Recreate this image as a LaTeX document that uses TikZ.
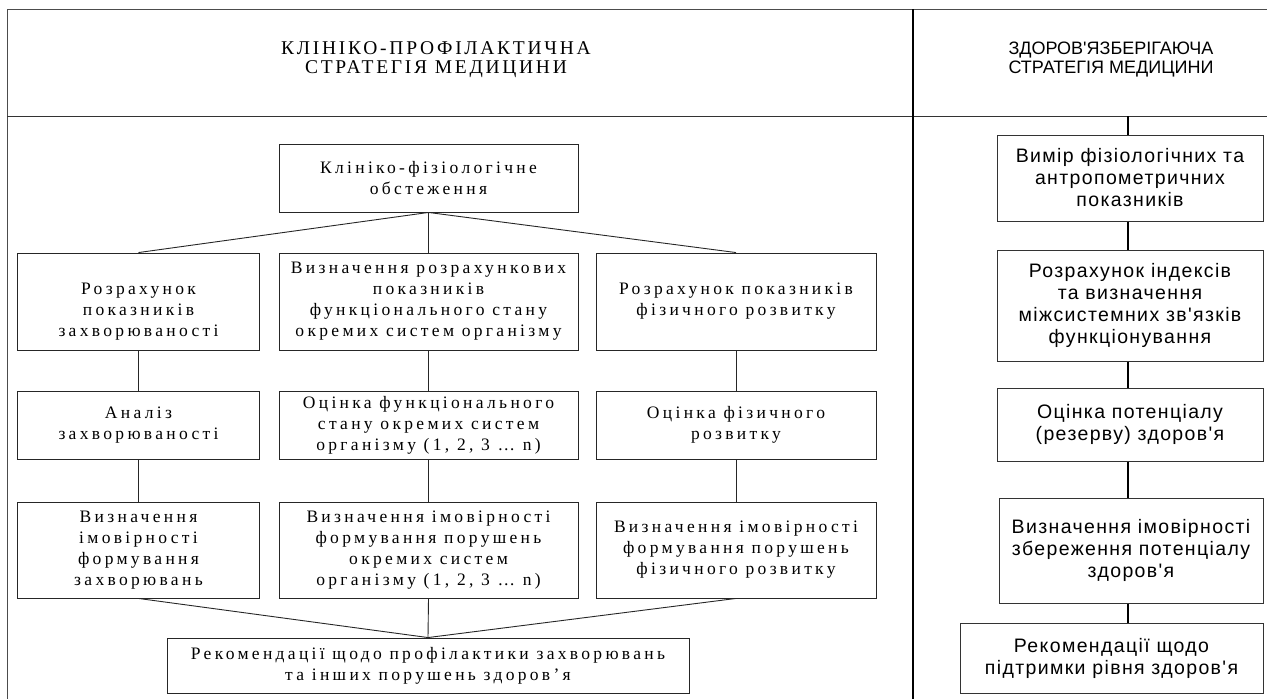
\documentclass[tikz,border=0pt]{standalone}
\usepackage{fontspec}
\setmainfont{Liberation Serif}
\newfontfamily\spacedserif[LetterSpace=19]{Liberation Serif}
\newfontfamily\capserif[LetterSpace=14]{Liberation Serif}
\newfontfamily\plainsans{Liberation Sans}
\newfontfamily\widesans[LetterSpace=7]{Liberation Sans}

\tikzset{
  lbox/.style={draw=black!85, line width=0.9pt, align=center, inner sep=0pt,
    font=\spacedserif\fontsize{17.5}{21}\selectfont},
  rbox/.style={draw=black!80, line width=1pt, align=center, inner sep=0pt,
    font=\widesans\fontsize{19.5}{22}\selectfont},
  thinline/.style={black!85, line width=0.9pt},
  thickline/.style={black, line width=2pt}
}

\begin{document}
\begin{tikzpicture}[x=1pt, y=-1pt]
\useasboundingbox (0,0) rectangle (1267,699);

%frame
\draw[black!70, line width=1pt] (7,699)--(7,9)--(1267,9);
\draw[black!80, line width=1pt] (7,116)--(1267,116);
\draw[thickline] (913,9)--(913,699);

%headers
\node (hleft) at (436,60) [align=center, font=\capserif\fontsize{19.5}{19}\selectfont]
  {КЛІНІКО-ПРОФІЛАКТИЧНА\\СТРАТЕГІЯ МЕДИЦИНИ};
\node (hright) at (1111,60) [align=center, font=\plainsans\fontsize{18}{19}\selectfont]
  {ЗДОРОВ'ЯЗБЕРІГАЮЧА\\СТРАТЕГІЯ МЕДИЦИНИ};

%left column
\node (obs) at (428.5,178) [lbox, minimum width=299pt, minimum height=68pt]
  {Клініко-фізіологічне\\обстеження};

\node (a1) at (138.5,301.5) [lbox, minimum width=242pt, minimum height=97pt, text height=74pt]
  {Розрахунок\\показників\\захворюваності};
\node (a2) at (428.5,301.5) [lbox, minimum width=299pt, minimum height=97pt]
  {Визначення розрахункових\\показників\\функціонального стану\\окремих систем організму};
\node (a3) at (736,301.5) [lbox, minimum width=280pt, minimum height=97pt]
  {Розрахунок показників\\фізичного розвитку};

\node (b1) at (138.5,425) [lbox, minimum width=242pt, minimum height=68pt]
  {Аналіз\\захворюваності};
\node (b2) at (428.5,425) [lbox, minimum width=299pt, minimum height=68pt]
  {Оцінка функціонального\\стану окремих систем\\організму (1, 2, 3 \dots\ n)};
\node (b3) at (736,425) [lbox, minimum width=280pt, minimum height=68pt]
  {Оцінка фізичного\\розвитку};

\node (c1) at (138.5,550) [lbox, minimum width=242pt, minimum height=96pt]
  {Визначення\\імовірності\\формування\\захворювань};
\node (c2) at (428.5,550) [lbox, minimum width=299pt, minimum height=96pt]
  {Визначення імовірності\\формування порушень\\окремих систем\\організму (1, 2, 3 \dots\ n)};
\node (c3) at (736,550) [lbox, minimum width=280pt, minimum height=96pt]
  {Визначення імовірності\\формування порушень\\фізичного розвитку};

\node (rec) at (428,665.5) [lbox, minimum width=522pt, minimum height=55pt]
  {Рекомендації щодо профілактики захворювань\\та інших порушень здоров’я};

\draw[thinline] (obs.south)--(a1.north);
\draw[thinline] (obs.south)--(a2.north);
\draw[thinline] (obs.south)--(a3.north);
\foreach \i in {1,2,3}{
  \draw[thinline] (a\i.south)--(b\i.north);
  \draw[thinline] (b\i.south)--(c\i.north);
  \draw[thinline] (c\i.south)--(rec.north);
}

%right column
\coordinate (rtop) at (1128,116);
\node (r1) at (1130,178) [rbox, minimum width=266pt, minimum height=86pt]
  {Вимір фізіологічних та\\антропометричних\\показників};
\node (r2) at (1130,305.5) [rbox, minimum width=266pt, minimum height=111pt]
  {Розрахунок індексів\\та визначення\\міжсистемних зв'язків\\функціонування};
\node (r3) at (1130,424.5) [rbox, minimum width=266pt, minimum height=73pt]
  {Оцінка потенціалу\\(резерву) здоров'я};
\node (r4) at (1131,550.5) [rbox, minimum width=264pt, minimum height=105pt]
  {Визначення імовірності\\збереження потенціалу\\здоров'я};
\node (r5) at (1111.5,658) [rbox, minimum width=303pt, minimum height=70pt]
  {Рекомендації щодо\\підтримки рівня здоров'я};

\draw[thickline] (rtop)--(rtop |- r1.north);
\draw[thickline] (rtop |- r1.south)--(rtop |- r2.north);
\draw[thickline] (rtop |- r2.south)--(rtop |- r3.north);
\draw[thickline] (rtop |- r3.south)--(rtop |- r4.north);
\draw[thickline] (rtop |- r4.south)--(rtop |- r5.north);
\end{tikzpicture}
\end{document}
